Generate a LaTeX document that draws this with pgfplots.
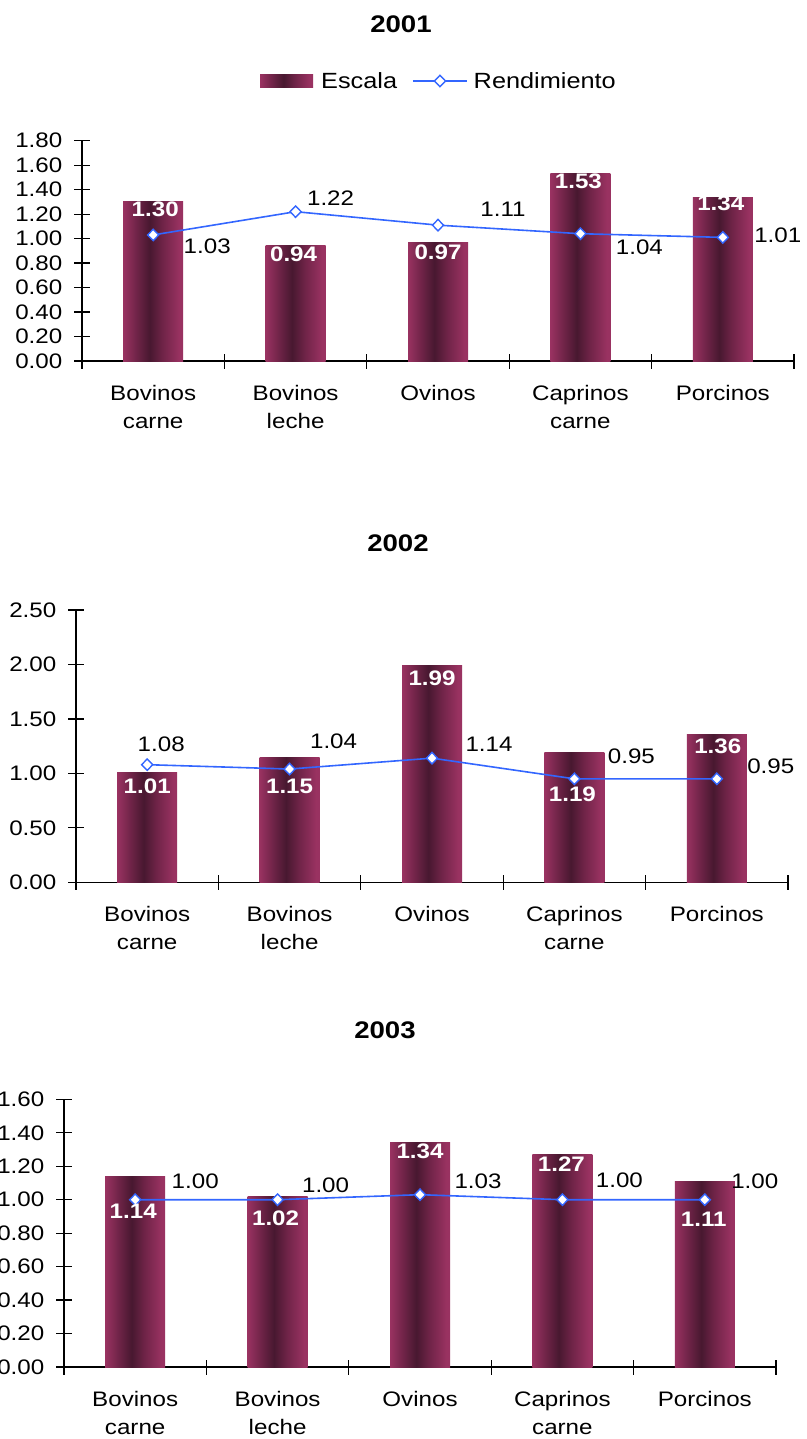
\documentclass[border=0pt]{standalone}
\usepackage{fontspec}
\setmainfont{Liberation Sans}[FakeStretch=1.15]
\usepackage{pgfplots}
\usepackage{pgfplotstable}
\pgfplotsset{compat=1.18}

\definecolor{barEdge}{RGB}{153,50,97}
\definecolor{barMid}{RGB}{112,36,72}
\definecolor{barDark}{RGB}{72,24,48}
\definecolor{lineBlue}{RGB}{51,102,255}

% cylinder-like shading of the bars: light edges, dark band left of centre
\pgfdeclarehorizontalshading{barshade}{100bp}{%
  color(0bp)=(barEdge); color(25bp)=(barEdge); color(36bp)=(barMid);
  color(47bp)=(barDark); color(58bp)=(barMid); color(72bp)=(barEdge);
  color(100bp)=(barEdge)}

\newcommand\tickfont{\fontsize{21}{28}\selectfont}
\newcommand\legfont{\fontsize{22}{26}\selectfont}
\newcommand\titlefont{\fontsize{24}{28}\selectfont\bfseries}

% columns: category, Escala, Rendimiento,
% label shifts for the bar value (ex, ey) and the line value (rx, ry), in pt (y up)
\pgfplotstableread{
x esc  rend ex ey  rx ry
0 1.30 1.03  2 -7  54 -11
1 0.94 1.22 -2 -8  35  14
2 0.97 1.11  0 -10 65  16
3 1.53 1.04 -2 -8  59 -14
4 1.34 1.01 -2 -6  55   2
}\dataA
\pgfplotstableread{
x esc  rend ex ey  rx ry
0 1.01 1.08  0 -14 14  20
1 1.15 1.04  0 -29 44  28
2 1.99 1.14  0 -13 57  14
3 1.19 0.95 -2 -42 57  23
4 1.36 0.95  1 -12 54  13
}\dataB
\pgfplotstableread{
x esc  rend ex ey  rx ry
0 1.14 1.00 -2 -35 60  18
1 1.02 1.00 -2 -22 48  14
2 1.34 1.03  0 -8  58  13
3 1.27 1.00 -1 -10 57  19
4 1.11 1.00 -1 -38 50  18
}\dataC

\pgfplotsset{
  chart/.style={
    scale only axis, width=712pt,
    xmin=-0.5, xmax=4.5, ymin=0,
    clip=false,
    axis x line=bottom, axis y line=left,
    axis line style={-, line width=1.2pt, black},
    tick align=center, major tick length=15pt,
    tick style={line width=1.2pt, black},
    xtick={-0.5,0.5,1.5,2.5,3.5,4.5}, xticklabels={},
    extra x ticks={0,1,2,3,4},
    extra x tick labels={{Bovinos\\carne},{Bovinos\\leche},{Ovinos},{Caprinos\\carne},{Porcinos}},
    extra x tick style={major tick length=0pt},
    xticklabel style={font=\tickfont, align=center, inner sep=0pt, anchor=north, yshift=-24pt},
    yticklabel style={font=\tickfont, inner sep=0pt, anchor=east, xshift=-12pt,
      /pgf/number format/.cd, fixed, fixed zerofill, precision=2, assume math mode=true},
  },
  barplot/.style={ybar, bar width=60pt, draw=none, shade, shading=barshade,
    legend image code/.code={%
      \path[shade, shading=barshade] (0pt,-6.5pt) rectangle (53pt,6.5pt);
      \path (61pt,0pt);}},
  lineplot/.style={lineBlue, line width=1.6pt, mark=diamond*, mark size=5.7pt,
    mark options={fill=white, draw=lineBlue, line width=1.4pt, xscale=1.3},
    legend image code/.code={%
      \path (-15pt,0pt);
      \draw[mark repeat=2, mark phase=2] plot coordinates {(0pt,0pt) (27pt,0pt) (54pt,0pt)};
      \path (60pt,0pt);}},
  barlabels/.style={draw=none, mark=none, forget plot,
    nodes near coords, point meta=explicit symbolic,
    visualization depends on={\thisrow{ex} \as \lx},
    visualization depends on={\thisrow{ey} \as \ly},
    every node near coord/.append style={anchor=center, inner sep=0pt,
      xshift=\lx pt, yshift=\ly pt, text=white, font=\tickfont\bfseries}},
  linelabels/.style={draw=none, mark=none, forget plot,
    nodes near coords, point meta=explicit symbolic,
    visualization depends on={\thisrow{rx} \as \lx},
    visualization depends on={\thisrow{ry} \as \ly},
    every node near coord/.append style={anchor=center, inner sep=0pt,
      xshift=\lx pt, yshift=\ly pt, text=black, font=\tickfont}},
}

% each bar is its own plot, so that every bar gets its own shading
\newcommand\drawbars[1]{%
  \pgfplotsinvokeforeach{0,1,2,3,4}{%
    \addplot[barplot, forget plot, restrict x to domain=##1:##1]
      table[x=x, y=esc] {#1};}}

\begin{document}
\begin{tikzpicture}

% ---------- 2001 ----------
\node[font=\titlefont] at (401pt,-24pt) {2001};
\begin{axis}[chart, at={(82pt,-361pt)}, anchor=south west,
  height=220.3pt, ymax=1.8, ytick={0,0.2,0.4,0.6,0.8,1.0,1.2,1.4,1.6,1.8},
  legend columns=2,
  legend cell align=left,
  legend style={at={(axis description cs:0.25,1.271)}, anchor=west,
    draw=none, fill=none, inner sep=0pt, column sep=0pt,
    nodes={inner sep=0pt}, font=\legfont}]
  \drawbars{\dataA}
  \addlegendimage{barplot}
  \addlegendentry{Escala}
  \addplot[lineplot] table[x=x, y=rend] {\dataA};
  \addlegendentry{Rendimiento}
  \addplot[barlabels] table[x=x, y=esc, meta=esc] {\dataA};
  \addplot[linelabels] table[x=x, y=rend, meta=rend] {\dataA};
\end{axis}

% ---------- 2002 ----------
\node[font=\titlefont] at (398pt,-543pt) {2002};
\begin{axis}[chart, at={(76pt,-882.3pt)}, anchor=south west,
  height=272.3pt, ymax=2.5, ytick={0,0.5,1.0,1.5,2.0,2.5}]
  \drawbars{\dataB}
  \addplot[lineplot] table[x=x, y=rend] {\dataB};
  \addplot[barlabels] table[x=x, y=esc, meta=esc] {\dataB};
  \addplot[linelabels] table[x=x, y=rend, meta=rend] {\dataB};
\end{axis}

% ---------- 2003 ----------
\node[font=\titlefont] at (385pt,-1030pt) {2003};
\begin{axis}[chart, at={(64pt,-1367pt)}, anchor=south west,
  height=267.7pt, ymax=1.6, ytick={0,0.2,0.4,0.6,0.8,1.0,1.2,1.4,1.6}]
  \drawbars{\dataC}
  \addplot[lineplot] table[x=x, y=rend] {\dataC};
  \addplot[barlabels] table[x=x, y=esc, meta=esc] {\dataC};
  \addplot[linelabels] table[x=x, y=rend, meta=rend] {\dataC};
\end{axis}

\pgfresetboundingbox
\path[use as bounding box] (0pt,0pt) rectangle (806pt,-1439pt);
\end{tikzpicture}
\end{document}
